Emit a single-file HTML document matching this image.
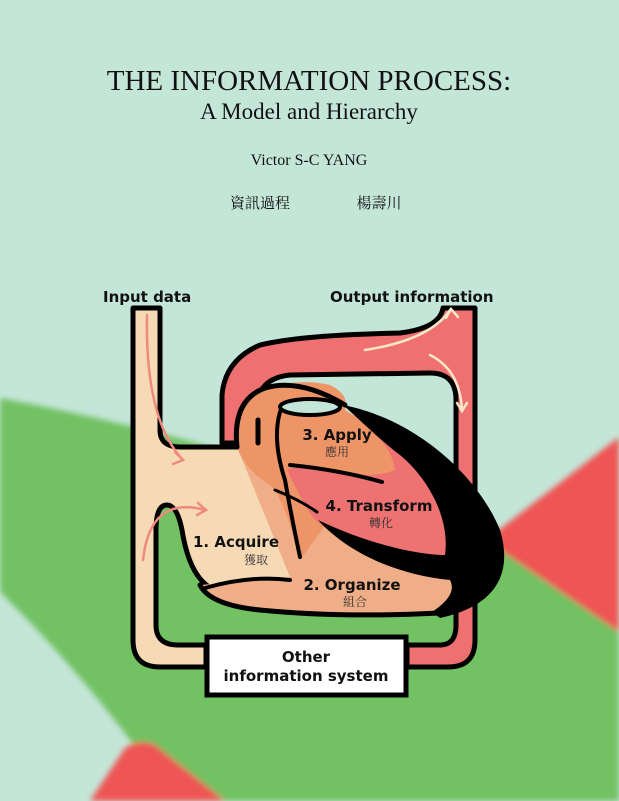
<!DOCTYPE html>
<html><head><meta charset="utf-8"><style>
html,body{margin:0;padding:0}
body{width:619px;height:801px;position:relative;overflow:hidden;background:#c4e6d8}
svg{position:absolute;left:0;top:0}
</style></head><body>
<svg width="619" height="801" viewBox="0 0 619 801">
<defs><filter id="bl"><feGaussianBlur stdDeviation="3"/></filter></defs>
<g filter="url(#bl)">
<path d="M0,398 Q250,445 486,540 L619,632 L619,801 L175,801 Q90,680 0,592 Z" fill="#72c163"/>
<path d="M486,540 L619,437 L619,632 Z" fill="#ef5555"/>
<path d="M125,748 Q140,738 155,745 L225,801 L90,801 Z" fill="#ef5555"/>
</g>
<g font-family="'Liberation Serif',serif" fill="#111" text-anchor="middle">
<text x="309" y="90" font-size="29">THE INFORMATION PROCESS:</text>
<text x="309" y="119" font-size="23">A Model and Hierarchy</text>
<text x="309" y="165" font-size="16">Victor S-C YANG</text>
<text x="260" y="208" font-size="15" font-family="'Liberation Serif','Noto Serif CJK SC',serif">資訊過程</text>
<text x="379" y="208" font-size="15" font-family="'Liberation Serif','Noto Serif CJK SC',serif">楊壽川</text>
</g>
<g font-family="'DejaVu Sans','Liberation Sans',sans-serif" font-weight="bold" font-size="15" fill="#111">
<text x="103" y="302">Input data</text>
<text x="330" y="302">Output information</text>
</g>
<g stroke="#000" stroke-width="5" stroke-linejoin="round">
<path d="M222,443 L222,395 Q225,360 260,345 Q300,335 400,333 Q440,328 443,308 L475,308 L475,640 Q475,667 448,667 L407,667 L407,645 L440,645 Q456,645 456,625 L456,400 Q456,373 430,373 L290,375 Q262,378 258,400 L258,443 Z" fill="#ee7070"/>
<path d="M133,308 L160,308 L160,430 Q160,447 180,447 L240,447 L290,520 L300,580 L215,590 Q190,580 182,530 Q177,505 167,505 Q156,505 156,530 L156,625 Q156,645 178,645 L206,645 L206,667 L160,667 Q133,667 133,640 Z" fill="#f6dab5"/>
</g>
<path d="M237,447 L290,450 L480,530 L503,565 Q495,605 430,614 Q300,618 230,603 Q205,595 200,585 L290,577 Z" fill="#f0ae88"/>
<path d="M237,447 Q232,400 265,388 Q300,378 330,385 Q350,395 345,410 L390,437 L300,560 Q285,500 270,485 Q245,470 237,447 Z" fill="#ee9568"/>
<path d="M277,447 Q330,430 390,437 Q430,460 446,520 L446,558 Q400,555 367,548 Q320,530 310,513 Q290,480 277,447 Z" fill="#ef7272"/>
<path d="M273,427 Q300,418 345,412 Q390,437 395,470 Q370,480 330,470 Q300,465 285,470 Q275,450 273,427 Z" fill="#ee9568"/>
<g fill="none" stroke="#000" stroke-linecap="round" stroke-linejoin="round">
<path d="M200,585 Q210,605 260,610 Q340,618 440,613" stroke-width="5"/>
<path d="M237,447 Q232,400 265,388 Q300,378 345,405" stroke-width="5"/>
<path d="M205,588 Q250,575 290,580" stroke-width="4"/>
<path d="M280,412 Q272,440 285,480 Q292,520 300,557" stroke-width="4"/>
<path d="M275,490 Q300,500 317,512" stroke-width="3"/>
<path d="M290,465 Q340,470 382,482" stroke-width="4"/>
<path d="M258,443 L258,420" stroke-width="5"/>
</g>
<path d="M343,405 C420,420 480,480 500,530 C512,570 500,605 440,618 L432,612 C450,600 455,590 450,580 C400,575 350,555 318,520 C370,545 420,555 445,555 C450,520 430,480 400,455 C380,440 360,420 343,405 Z" fill="#000"/>
<ellipse cx="310" cy="407" rx="30" ry="8" fill="#c4e6d8" stroke="#000" stroke-width="4"/>
<rect x="207" y="637" width="199" height="58" fill="#fff" stroke="#000" stroke-width="5"/>
<g fill="none" stroke="#f08a80" stroke-width="2.5" stroke-linecap="round">
<path d="M147,315 Q145,420 183,460"/><path d="M175,452 L183,460 L173,464"/>
<path d="M143,560 Q150,495 205,510"/><path d="M198,503 L206,510 L197,515"/>
</g>
<g fill="none" stroke="#fbe6c8" stroke-width="2.5" stroke-linecap="round">
<path d="M365,350 Q430,340 450,310"/><path d="M446,318 L451,309 L458,317"/>
<path d="M430,355 Q460,370 462,410"/><path d="M457,403 L462,411 L467,403"/>
</g>
<g font-family="'DejaVu Sans','Liberation Sans',sans-serif" font-weight="bold" font-size="15" fill="#111" text-anchor="middle">
<text x="337" y="440">3. Apply</text>
<text x="379" y="511">4. Transform</text>
<text x="236" y="547">1. Acquire</text>
<text x="352" y="590">2. Organize</text>
<text x="306" y="662">Other</text>
<text x="306" y="681">information system</text>
</g>
<g font-family="'Noto Serif CJK SC',serif" font-size="12" fill="#333" text-anchor="middle">
<text x="337" y="456">應用</text>
<text x="381" y="527">轉化</text>
<text x="256" y="564">獲取</text>
<text x="355" y="606">組合</text>
</g>
</svg>
</body></html>
